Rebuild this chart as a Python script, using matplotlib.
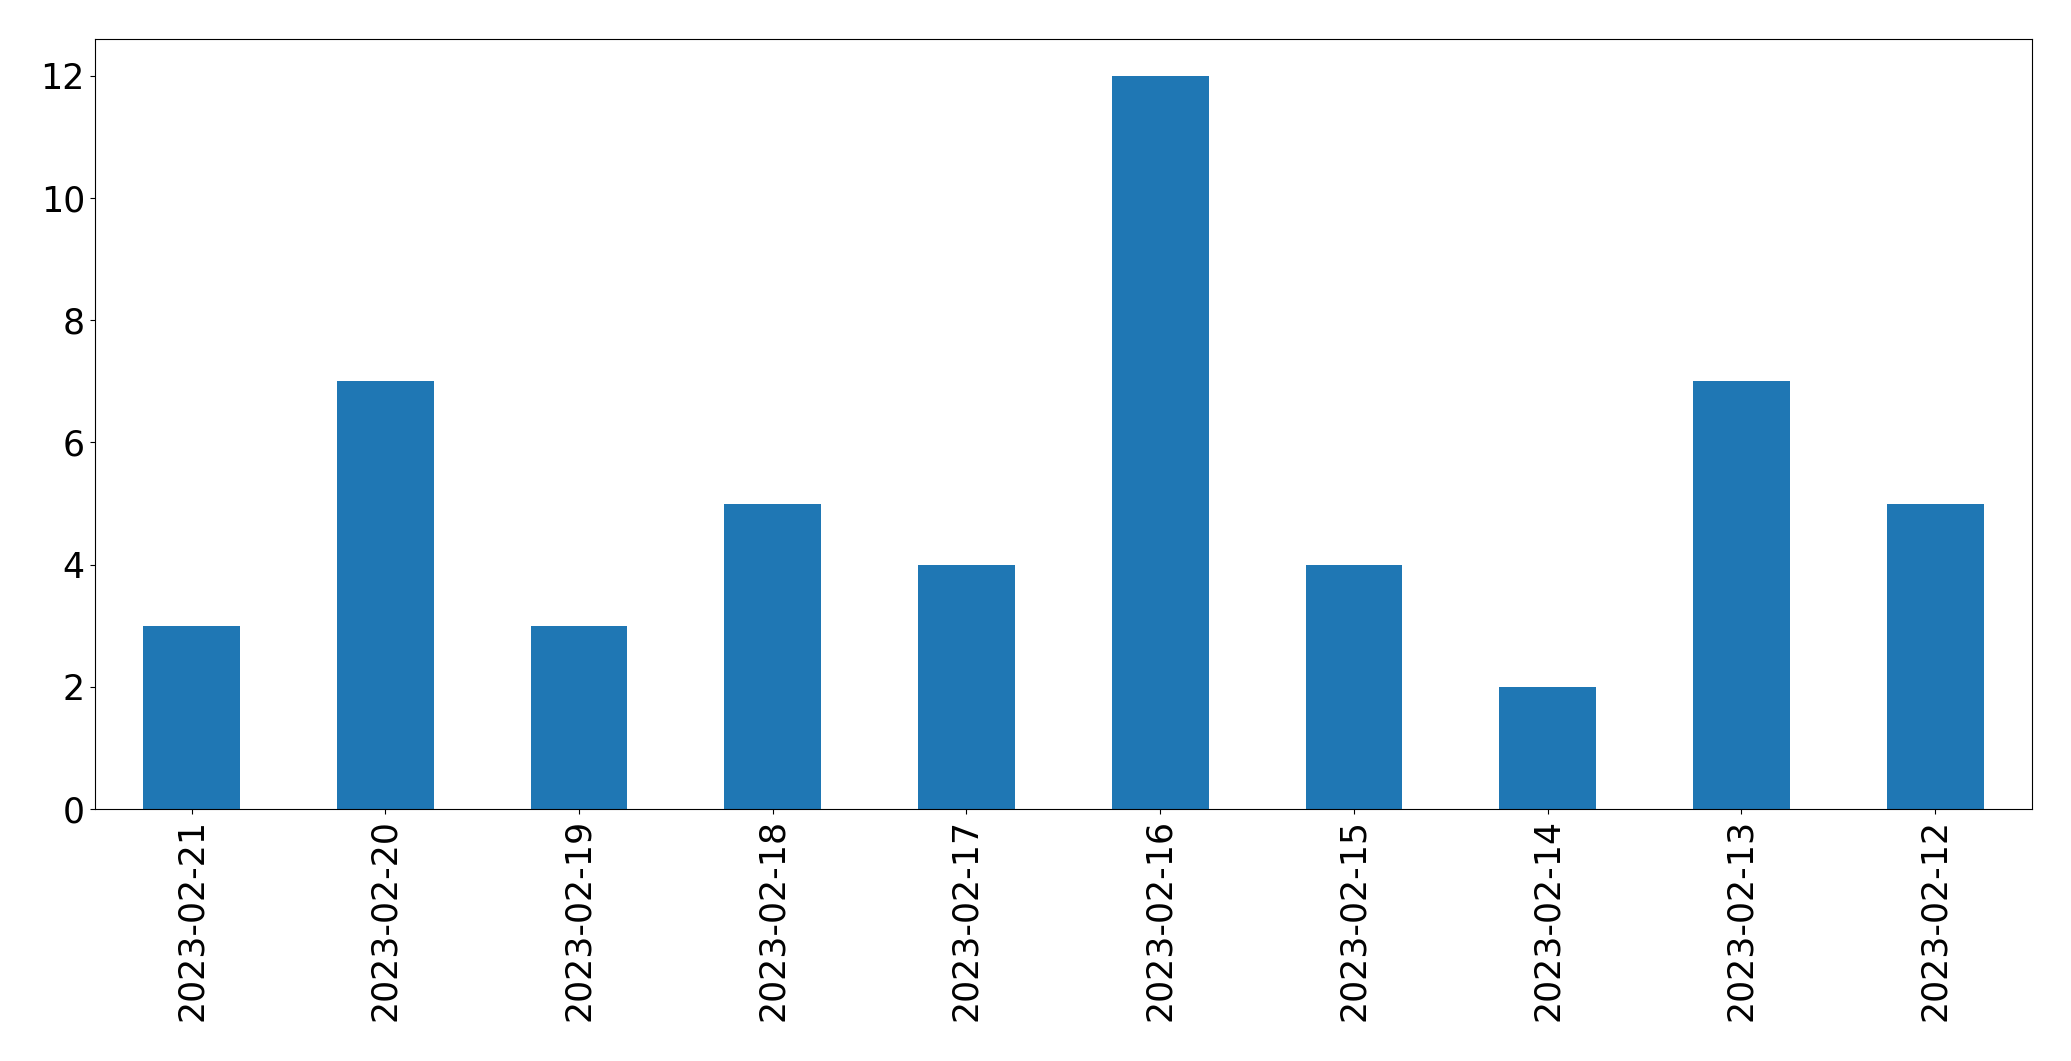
import matplotlib
matplotlib.use("Agg")
import matplotlib.pyplot as plt
import pandas as pd

dates = ["2023-02-21", "2023-02-20", "2023-02-19", "2023-02-18", "2023-02-17",
         "2023-02-16", "2023-02-15", "2023-02-14", "2023-02-13", "2023-02-12"]
counts = [3, 7, 3, 5, 4, 12, 4, 2, 7, 5]

plt.rcParams['font.size'] = 25

s = pd.Series(counts, index=dates)
fig = plt.figure(figsize=(20.71, 10.61), dpi=100)
ax = fig.add_axes([0.0457, 0.2375, 0.9355, 0.7255])
s.plot(kind='bar', ax=ax, color='#1f77b4')
ax.tick_params(labelsize=25)
fig.savefig("out.png", dpi=100)
